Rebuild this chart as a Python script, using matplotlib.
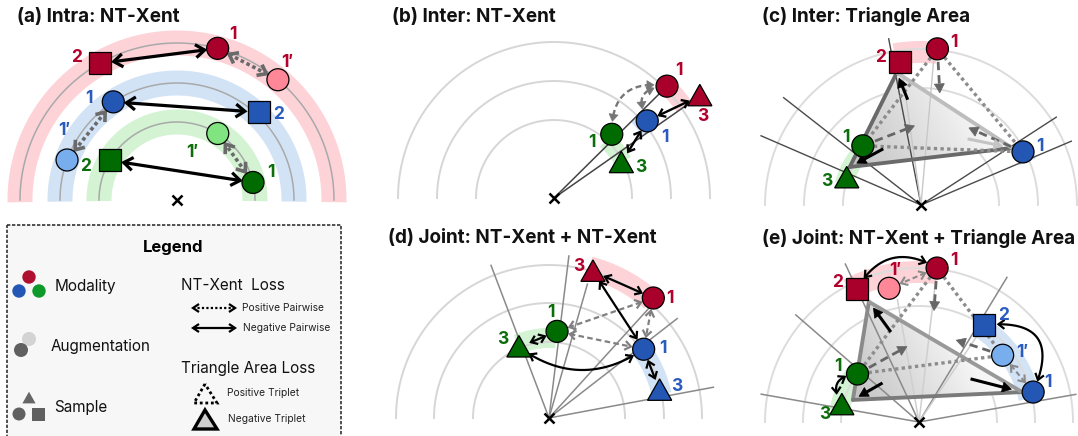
import numpy as np
import matplotlib
matplotlib.use('Agg')
import matplotlib.pyplot as plt
from matplotlib.patches import Circle, Rectangle, Polygon

plt.rcParams['font.family'] = ['Inter', 'DejaVu Sans']

# ---------------- colours ----------------
COL = {'r': ('#a8002a', '#ff8797'), 'b': ('#2456b3', '#79aeee'), 'g': ('#006b00', '#80e480')}
BAND = {'r': '#fdd3d8', 'b': '#d3e3f6', 'g': '#d3f3d3'}
TXT = {'r': '#b3002d', 'b': '#2a5cbf', 'g': '#0b6e0b'}

# ---------------- data ----------------
titles = ['(a) Intra: NT-Xent', '(b) Inter: NT-Xent', '(c) Inter: Triangle Area',
          '(d) Joint: NT-Xent + NT-Xent', '(e) Joint: NT-Xent + Triangle Area']

# (a) Intra: NT-Xent  -- polar (radius, angle) of each embedding
a_mod = ['r', 'r', 'r', 'b', 'b', 'b', 'g', 'g', 'g']
a_aug = [0, 0, 1, 0, 0, 1, 1, 0, 0]
a_shape = ['o', 's', 'o', 'o', 's', 'o', 'o', 'o', 's']
a_label = ['1', '2', '1′', '1', '2', '1′', '1′', '1', '2']
a_rad = [157, 157, 157, 117, 120, 117, 78, 78, 78]
a_ang = [75, 119.5, 50, 123, 47, 160, 58.5, 13, 149.5]
a_neg = [(0, 1), (3, 4), (7, 8)]
a_pos = [(0, 2), (3, 5), (7, 6)]

# (b) Inter: NT-Xent
b_mod = ['r', 'r', 'b', 'g', 'g']
b_aug = [0, 0, 0, 0, 0]
b_shape = ['o', '^', 'o', 'o', '^']
b_label = ['1', '3', '1', '1', '3']
b_rad = [159, 178, 121, 86, 76]
b_ang = [44.7, 35, 39.6, 47.8, 27.6]
b_neg = [(2, 1), (2, 4)]
b_pos = [(3, 0, -0.6), (2, 0, -0.8)]

# (c) Inter: Triangle Area
c_mod = ['r', 'r', 'g', 'g', 'b']
c_aug = [0, 0, 0, 0, 0]
c_shape = ['o', 's', 'o', '^', 'o']
c_label = ['1', '2', '1', '3', '1']
c_rad = [157, 145, 83, 79, 115]
c_ang = [84, 98.4, 134.5, 160, 27.5]
c_pos_tri = (0, 2, 4)
c_neg_tri = (1, 3, 4)

# (d) Joint: NT-Xent + NT-Xent
d_mod = ['r', 'r', 'g', 'g', 'b', 'b']
d_aug = [0, 0, 0, 0, 0, 0]
d_shape = ['^', 'o', 'o', '^', 'o', '^']
d_label = ['3', '1', '1', '3', '1', '3']
d_rad = [153, 159, 87, 77, 117, 114]
d_ang = [73.3, 49, 84.7, 113, 36, 14]
d_neg = [(0, 1, 0.0), (0, 4, 0.0), (3, 2, 0.0), (4, 5, 0.0), (3, 4, 0.35)]
d_pos = [(1, 2), (2, 4), (1, 4)]

# (e) Joint: NT-Xent + Triangle Area
e_mod = ['r', 'r', 'r', 'b', 'b', 'b', 'g', 'g']
e_aug = [0, 1, 0, 0, 1, 0, 0, 0]
e_shape = ['o', 'o', 's', 's', 'o', 'o', 'o', '^']
e_label = ['1', '1′', '2', '2', '1′', '1', '1', '3']
e_rad = [155, 137, 147, 117, 107, 118, 78, 79]
e_ang = [83.3, 102.6, 115, 56, 38.6, 14.7, 142, 167.5]
e_neg = [(2, 0, -0.5), (3, 5, -0.85), (6, 7, 0.8)]
e_pos = [(0, 1), (4, 5)]
e_pos_tri = (0, 6, 4)
e_neg_tri = (2, 7, 5)

# ---------------- layout (pixels) ----------------
CA, CB, CC, CD, CE = (177, 200), (554, 198), (921, 205), (549, 418), (919, 422)
a_loff = [(15, -14), (-23, -6), (9, -17), (-24, -3), (20, 2), (-3, -29), (-25, 19), (18, -10), (-24, 6)]
b_loff = [(12, -16), (3, 21), (18, 17), (-20, 8), (19, 5)]
c_loff = [(17, -6), (-19, -4), (-17, -8), (-20, 4), (17, -5)]
d_loff = [(-14, -5), (17, 0), (-6, -19), (-16, -8), (19, -1), (17, -4)]
e_loff = [(17, -8), (6, -18), (-19, -6), (19, -10), (20, -3), (15, -10), (-20, -7), (-17, 10)]

fig = plt.figure(figsize=(10.78, 4.36), dpi=100)
ax = fig.add_axes([0, 0, 1, 1])


def pol(c, r, a):
    a = np.deg2rad(a)
    return c[0] + r * np.cos(a), c[1] - r * np.sin(a)


def band(c, r, w, a1, a2, color):
    t = np.linspace(a1, a2, 150)
    xo, yo = pol(c, r + w / 2, t)
    xi, yi = pol(c, r - w / 2, t[::-1])
    ax.add_patch(Polygon(np.column_stack([np.r_[xo, xi], np.r_[yo, yi]]), closed=True,
                         fc=color, ec='none', zorder=1))


def arcs(c, radii, color, lw):
    t = np.linspace(0, 180, 361)
    for r in radii:
        x, y = pol(c, r, t)
        ax.plot(x, y, color=color, lw=lw, zorder=2)


def rays(c, angs, lens, colors, lw=1.0):
    for a, L, col in zip(angs, lens, colors):
        x, y = pol(c, np.array([0.0, L]), a)
        ax.plot(x, y, color=col, lw=lw, zorder=4, solid_capstyle='butt')


def mark(xy, shape, fc, s=11, lw=0.9, ec='black', z=7):
    x, y = xy
    if shape == 'o':
        p = Circle((x, y), s, fc=fc, ec=ec, lw=lw, zorder=z)
    elif shape == 's':
        p = Rectangle((x - s, y - s), 2 * s, 2 * s, fc=fc, ec=ec, lw=lw, zorder=z)
    else:
        p = Polygon([(x - 1.1 * s, y + 0.9 * s), (x + 1.1 * s, y + 0.9 * s), (x, y - 1.05 * s)],
                    closed=True, fc=fc, ec=ec, lw=lw, zorder=z)
    ax.add_patch(p)


SHRINK = {'o': 13, 's': 14, '^': 13}


def arrow(p, q, sa=13, sb=13, rad=0.0, color='k', lw=1.5, ls='-', ha=True, hb=True,
          hl=7.0, hw=4.5, fill=False, z=6, hcolor=None):
    p = np.asarray(p, float)
    q = np.asarray(q, float)
    d = q - p
    cp = (p + q) / 2 + rad * np.array([-d[1], d[0]])
    t = np.linspace(0, 1, 800)[:, None]
    pts = (1 - t) ** 2 * p + 2 * (1 - t) * t * cp + t ** 2 * q
    keep = (np.hypot(*(pts - p).T) >= sa) & (np.hypot(*(pts - q).T) >= sb)
    pts = pts[keep]
    seg = np.hypot(*np.diff(pts, axis=0).T)
    s = np.r_[0, np.cumsum(seg)]
    tot = s[-1]
    hc = hcolor or color
    lo, hi = 0.0, tot

    def head(tip, back):
        u = (tip - back) / np.hypot(*(tip - back))
        v = np.array([-u[1], u[0]])
        L = tip - hl * u + hw * v
        R = tip - hl * u - hw * v
        if fill:
            ax.add_patch(Polygon([tip, L, R], closed=True, fc=hc, ec=hc, lw=0.5, zorder=z))
        else:
            ax.plot([L[0], tip[0], R[0]], [L[1], tip[1], R[1]], color=hc, lw=lw, zorder=z,
                    solid_joinstyle='miter', solid_capstyle='butt')

    if hb:
        back = pts[min(np.searchsorted(s, tot - hl), len(pts) - 2)]
        head(pts[-1], back)
        if fill:
            hi = tot - 0.8 * hl
    if ha:
        back = pts[max(np.searchsorted(s, hl), 1)]
        head(pts[0], back)
        if fill:
            lo = 0.8 * hl
    m = (s >= lo) & (s <= hi)
    ax.plot(pts[m, 0], pts[m, 1], color=color, lw=lw, ls=ls, zorder=z,
            solid_capstyle='butt', dash_capstyle='butt')


def points(c, mods, augs, shapes, labels, rads, angs, loffs):
    P = []
    for m, g, sh, lab, r, a, (dx, dy) in zip(mods, augs, shapes, labels, rads, angs, loffs):
        xy = np.array(pol(c, r, a))
        mark(xy, sh, COL[m][g])
        ax.text(xy[0] + dx, xy[1] + dy, lab, color=TXT[m], fontsize=12.5, fontweight='bold',
                ha='center', va='center', zorder=8)
        P.append(xy)
    return P


def cross(c):
    ax.plot(c[0], c[1], marker='x', ms=6.5, mew=1.8, color='k', zorder=8)


def grad_tri(verts, dark, light, g0=0.76, g1=0.965):
    verts = np.asarray(verts, float)
    x0, y0 = verts.min(0) - 2
    x1, y1 = verts.max(0) + 2
    X, Y = np.meshgrid(np.linspace(x0, x1, 220), np.linspace(y0, y1, 220))
    a = np.asarray(dark, float)
    u = np.asarray(light, float) - a
    v = np.clip(((X - a[0]) * u[0] + (Y - a[1]) * u[1]) / (u @ u), 0, 1)
    g = g0 + (g1 - g0) * v
    im = ax.imshow(np.dstack([g, g, g]), extent=(x0, x1, y1, y0), origin='upper', zorder=3,
                   interpolation='bilinear')
    poly = Polygon(verts, closed=True, fc='none', ec='none')
    ax.add_patch(poly)
    im.set_clip_path(poly)


def tri_panel(P, shapes, pos_tri, neg_tri, neg_off, edge_cols, push_cols):
    # negative triangle (filled, thick edges)
    V = [P[i] + np.array(o) for i, o in zip(neg_tri, neg_off)]
    mid = (V[0] + V[2]) / 2
    grad_tri(V, V[1], mid + (mid - V[1]) * 0.15)
    for (i, j), col in zip([(0, 1), (1, 2), (0, 2)], edge_cols):
        ax.plot([V[i][0], V[j][0]], [V[i][1], V[j][1]], color=col, lw=2.8, zorder=5,
                solid_capstyle='round')
    # positive triangle (dotted)
    for i, j in [(0, 1), (0, 2), (1, 2)]:
        a, b = P[pos_tri[i]], P[pos_tri[j]]
        arrow(a, b, sa=11, sb=11, color='#8c8c8c', lw=2.4, ls=(0, (1, 1)), ha=False, hb=False, z=5)
    cen = np.mean([P[k] for k in pos_tri], axis=0)
    for k in pos_tri:
        v = P[k]
        end = v + 0.66 * (cen - v)
        u = (cen - v) / np.hypot(*(cen - v))
        arrow(v + 13 * u, end, sa=0, sb=0, color='#666666', lw=2.0, ls=(0, (3, 1.8)),
              ha=False, hl=9, hw=5, fill=True)
    ncen = np.mean(V, axis=0)
    for vv, col in zip(V, push_cols):
        arrow(ncen + 0.52 * (vv - ncen), ncen + 0.9 * (vv - ncen), sa=0, sb=0, color=col,
              lw=2.2, ha=False, hl=9, hw=5, fill=True)


# ================= panel (a) =================
for m, r in zip(['r', 'b', 'g'], [157, 117, 78]):
    band(CA, r, 25, -0.8, 180.8, BAND[m])
arcs(CA, [157, 117, 78], '#a9a9a9', 1.1)
PA = points(CA, a_mod, a_aug, a_shape, a_label, a_rad, a_ang, a_loff)
for i, j in a_neg:
    arrow(PA[i], PA[j], sa=SHRINK[a_shape[i]], sb=SHRINK[a_shape[j]], color='black',
          lw=2.3, hl=9, hw=6.5)
for i, j in a_pos:
    arrow(PA[i], PA[j], sa=SHRINK[a_shape[i]], sb=SHRINK[a_shape[j]], color='#6a6a6a',
          lw=2.6, ls=(0, (1, 0.8)), hl=8, hw=6)
cross(CA)

# ================= panel (b) =================
arcs(CB, [156, 117, 78], '#d6d6d6', 1.4)
band(CB, 159, 18, 35, 44.7, BAND['r'])
band(CB, 117, 18, 35, 44.7, BAND['b'])
band(CB, 78, 18, 28, 48, BAND['g'])
rays(CB, [44.7, 35], [148, 167], ['#444444', '#444444'], lw=1.1)
PB = points(CB, b_mod, b_aug, b_shape, b_label, b_rad, b_ang, b_loff)
for i, j in b_neg:
    arrow(PB[i], PB[j], sa=SHRINK[b_shape[i]], sb=SHRINK[b_shape[j]], color='black',
          lw=1.7, hl=6, hw=4.5)
for i, j, rd in b_pos:
    arrow(PB[i], PB[j], sa=13, sb=13, rad=rd, color='#777777', lw=1.7, ls=(0, (2.5, 1.5)),
          hl=7, hw=4.5, fill=True)
cross(CB)

# ================= panel (c) =================
arcs(CC, [156, 117, 78], '#dcdcdc', 1.4)
band(CC, 153, 22, 84, 100, BAND['r'])
band(CC, 80, 18, 135, 165, BAND['g'])
band(CC, 115, 18, 22, 31, BAND['b'])
rays(CC, [142, 156.6, 101, 33, 23, 85, 98], [175, 175, 170, 162, 164, 145, 130],
     ['#4a4a4a'] * 5 + ['#c8c8c8', '#c8c8c8'], lw=1.0)
PC = points(CC, c_mod, c_aug, c_shape, c_label, c_rad, c_ang, c_loff)
tri_panel(PC, c_shape, c_pos_tri, c_neg_tri, [(-3, 11), (3, -11), (-11, -4)],
          ['#6a6a6a', '#6a6a6a', '#bdbdbd'], ['black', 'black', '#c4c4c4'])
cross(CC)

# ================= panel (d) =================
arcs(CD, [153, 115, 76], '#d6d6d6', 1.4)
band(CD, 156, 22, 49, 75, BAND['r'])
band(CD, 80, 20, 85, 113, BAND['g'])
band(CD, 115, 20, 12, 37, BAND['b'])
rays(CD, [110.8, 83, 74, 47.7, 37.8, 10.6], [164, 164, 140, 150, 163, 168],
     ['#8a8a8a'] * 6, lw=1.1)
PD = points(CD, d_mod, d_aug, d_shape, d_label, d_rad, d_ang, d_loff)
for i, j, rd in d_neg:
    arrow(PD[i], PD[j], sa=SHRINK[d_shape[i]], sb=SHRINK[d_shape[j]], rad=rd, color='black',
          lw=1.6, hl=6, hw=4.5)
for i, j in d_pos:
    arrow(PD[i], PD[j], sa=13, sb=13, color='#808080', lw=1.6, ls=(0, (2.5, 1.5)), hl=6, hw=4.5)
cross(CD)

# ================= panel (e) =================
arcs(CE, [154, 116, 78], '#dcdcdc', 1.4)
band(CE, 150, 22, 83, 118, BAND['r'])
band(CE, 113, 22, 12, 58, BAND['b'])
band(CE, 80, 20, 140, 172, BAND['g'])
rays(CE, [115, 139, 170, 58.7, 10, 83.3, 56, 100], [175, 164, 161, 170, 160, 143, 105, 125],
     ['#8a8a8a'] * 5 + ['#cfcfcf'] * 3, lw=1.1)
PE = points(CE, e_mod, e_aug, e_shape, e_label, e_rad, e_ang, e_loff)
tri_panel(PE, e_shape, e_pos_tri, e_neg_tri, [(12, 13), (11, -5), (-11, 0)],
          ['#8a8a8a', '#7a7a7a', '#999999'], ['black', 'black', 'black'])
for i, j, rd in e_neg:
    arrow(PE[i], PE[j], sa=SHRINK[e_shape[i]], sb=SHRINK[e_shape[j]], rad=rd, color='black',
          lw=1.6, hl=6, hw=4.5)
for i, j in e_pos:
    arrow(PE[i], PE[j], sa=13, sb=13, color='#8a8a8a', lw=1.5, ls=(0, (2.5, 1.5)), hl=6, hw=4.5)
cross(CE)

# ================= titles =================
for (x, y), t in zip([(17, 17), (392, 17), (762, 17), (388, 238), (762, 238)], titles):
    ax.text(x, y, t, fontsize=13.6, fontweight='bold', ha='left', va='center', color='#111111')

# ================= legend =================
ax.add_patch(Rectangle((7, 225), 334, 225, fc='#f7f7f7', ec='#333333', lw=1.2,
                       ls=(0, (2, 1)), zorder=0))
ax.text(173, 247, 'Legend', fontsize=12, fontweight='bold', ha='center', va='center')
for (x, y), col in zip([(29, 277), (19, 291), (39, 291)], ['#b01030', '#2457b5', '#0d9a2a']):
    ax.add_patch(Circle((x, y), 6.7, fc=col, ec='none', zorder=3))
ax.add_patch(Circle((29, 339), 7, fc='#d3d3d3', ec='none', zorder=3))
ax.add_patch(Circle((21, 350), 7, fc='#606060', ec='none', zorder=3))
mark((29, 398), '^', '#666666', s=6, lw=0, ec='none', z=3)
ax.add_patch(Circle((19, 414), 6.5, fc='#606060', ec='none', zorder=3))
ax.add_patch(Rectangle((32, 407.5), 13, 13, fc='#606060', ec='none', zorder=3))
for (x, y), t in zip([(55, 286), (51, 346), (54, 407)], ['Modality', 'Augmentation', 'Sample']):
    ax.text(x, y, t, fontsize=11, ha='left', va='center', color='#111111')
ax.text(181, 285, 'NT-Xent  Loss', fontsize=11, ha='left', va='center', color='#111111')
ax.text(181, 368, 'Triangle Area Loss', fontsize=11, ha='left', va='center', color='#111111')
arrow((193, 308), (235, 308), sa=0, sb=0, color='black', lw=1.6, ls=(0, (1, 1)), hl=6, hw=4)
arrow((193, 328), (235, 328), sa=0, sb=0, color='black', lw=1.6, hl=6, hw=4)
ax.add_patch(Polygon([(205, 384), (194, 403), (217, 403)], closed=True, fc='none', ec='black',
                     lw=2, ls=(0, (1, 1)), zorder=3))
ax.add_patch(Polygon([(205, 410), (194, 429), (217, 429)], closed=True, fc='#cfcfcf', ec='black',
                     lw=2.4, zorder=3))
for (x, y), t in zip([(242, 308), (243, 328), (227, 393), (228, 419)],
                     ['Positive Pairwise', 'Negative Pairwise', 'Positive Triplet', 'Negative Triplet']):
    ax.text(x, y, t, fontsize=7.4, ha='left', va='center', color='#222222')

ax.set_xlim(0, 1078)
ax.set_ylim(436, 0)
ax.set_aspect('auto')
ax.axis('off')
fig.savefig('out.png', dpi=100)
